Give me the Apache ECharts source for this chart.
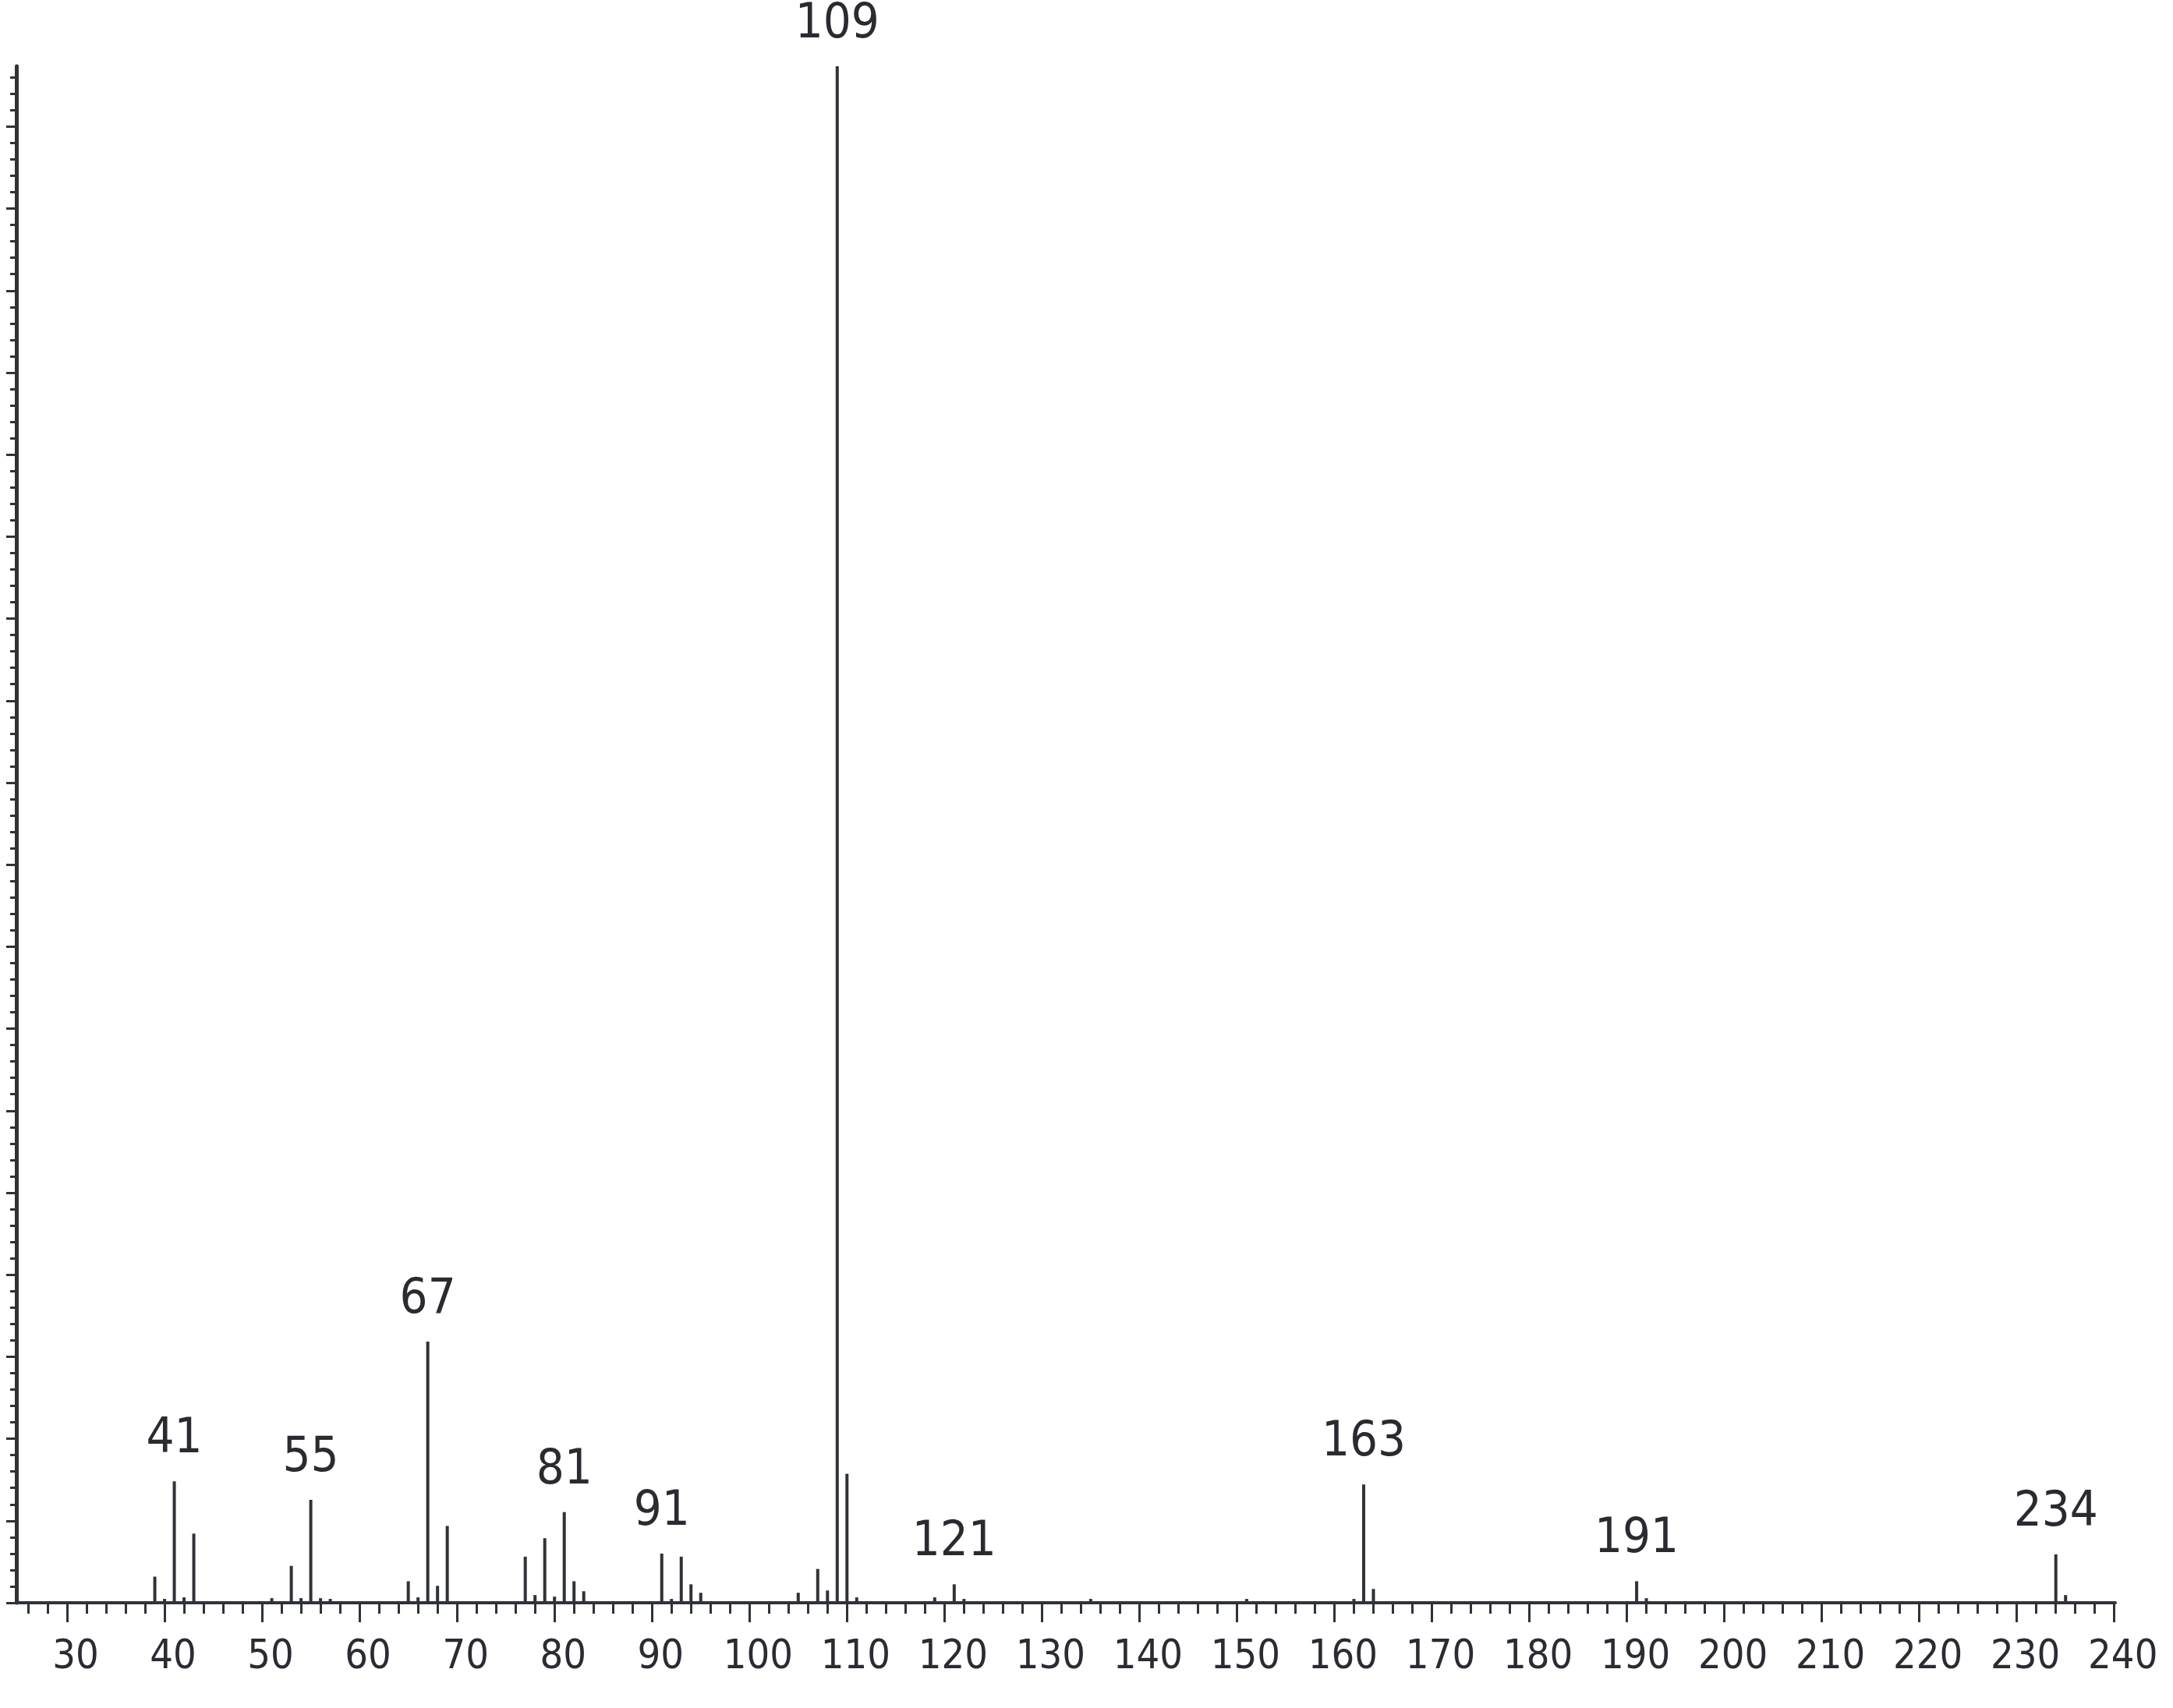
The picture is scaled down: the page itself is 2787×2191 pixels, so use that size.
<!DOCTYPE html>
<html>
<head>
<meta charset="utf-8">
<script src="https://cdn.jsdelivr.net/npm/echarts@6/dist/echarts.min.js"></script>
<style>
  html, body { margin: 0; padding: 0; background: #fff; }
  #chart { width: 2787px; height: 2191px; }
</style>
</head>
<body>
<div id="chart"></div>
<script>
// m/z of each peak and its intensity (% of base peak 109)
const mz = [39, 40, 41, 42, 43, 51, 53, 54, 55, 56, 57, 65, 66, 67, 68, 69,
  77, 78, 79, 80, 81, 82, 83, 91, 92, 93, 94, 95, 105, 107, 108, 109, 110, 111,
  119, 121, 122, 135, 151, 162, 163, 164, 191, 192, 234, 235]
const intensity = [1.7, 0.25, 7.9, 0.35, 4.5, 0.3, 2.4, 0.3, 6.7, 0.3, 0.25, 1.4, 0.35, 17.0, 1.1, 5.0,
  3.0, 0.5, 4.2, 0.4, 5.9, 1.4, 0.75, 3.2, 0.25, 3.0, 1.2, 0.65, 0.65, 2.2, 0.8, 100, 8.4, 0.35,
  0.35, 1.2, 0.25, 0.25, 0.25, 0.25, 7.7, 0.9, 1.4, 0.3, 3.15, 0.5]
// peaks that carry a label
const labeledPeaks = [41, 55, 67, 81, 91, 109, 121, 163, 191, 234]

// x axis ticks
const xLabels = [30, 40, 50, 60, 70, 80, 90, 100, 110, 120, 130, 140, 150, 160, 170,
  180, 190, 200, 210, 220, 230, 240]
const xMin = 24.8
const xMax = 240.1
const xMinorStep = 2

// y axis (no labels), 18 major ticks below the top, 5 minor steps each
const yMax = 100
const yMinorStep = 1.0675

const xMinor = []
for (let v = 26; v <= 240; v += xMinorStep) xMinor.push(v)
const yMajor = []
const yMinor = []
for (let i = 0; i * yMinorStep < yMax; i++) {
  if (i % 5 === 0) yMajor.push(i * yMinorStep)
  else yMinor.push(i * yMinorStep)
}

const ink = '#2f3338'
const font = "'DejaVu Sans Condensed', 'Liberation Sans', sans-serif"

const chart = echarts.init(document.getElementById('chart'))
const option = {
  backgroundColor: '#fff',
  animation: false,
  grid: { left: 21, right: 74, top: 85, bottom: 135, containLabel: false },
  xAxis: [
    {
      type: 'value',
      min: xMin,
      max: xMax,
      splitLine: { show: false },
      axisLine: { show: true, onZero: false, lineStyle: { color: ink, width: 4 } },
      axisTick: { show: true, customValues: xLabels, length: 25, lineStyle: { color: ink, width: 3 } },
      axisLabel: {
        show: true,
        customValues: xLabels,
        color: '#2b2b33',
        fontFamily: font,
        fontSize: 52,
        margin: 44,
        padding: [0, 0, 0, 22]
      }
    },
    {
      type: 'value',
      min: xMin,
      max: xMax,
      position: 'bottom',
      splitLine: { show: false },
      axisLine: { show: false, onZero: false },
      axisTick: { show: true, customValues: xMinor, length: 14, lineStyle: { color: ink, width: 3 } },
      axisLabel: { show: false }
    }
  ],
  yAxis: [
    {
      type: 'value',
      min: 0,
      max: yMax,
      splitLine: { show: false },
      axisLine: { show: true, lineStyle: { color: ink, width: 5 } },
      axisTick: { show: true, customValues: yMajor, length: 13, lineStyle: { color: ink, width: 3 } },
      axisLabel: { show: false }
    },
    {
      type: 'value',
      min: 0,
      max: yMax,
      position: 'left',
      offset: 0,
      splitLine: { show: false },
      axisLine: { show: false },
      axisTick: { show: true, customValues: yMinor, length: 8, lineStyle: { color: ink, width: 3 } },
      axisLabel: { show: false }
    }
  ],
  series: [
    {
      type: 'bar',
      xAxisIndex: 0,
      yAxisIndex: 0,
      barWidth: 4,
      itemStyle: { color: ink },
      label: {
        show: false,
        position: 'top',
        distance: 22,
        color: '#2a2a30',
        fontFamily: font,
        fontSize: 63,
        formatter: p => p.value[0]
      },
      data: mz.map((m, i) => ({
        value: [m, intensity[i]],
        label: { show: labeledPeaks.includes(m) }
      }))
    }
  ]
}
option && chart.setOption(option)
</script>
</body>
</html>
